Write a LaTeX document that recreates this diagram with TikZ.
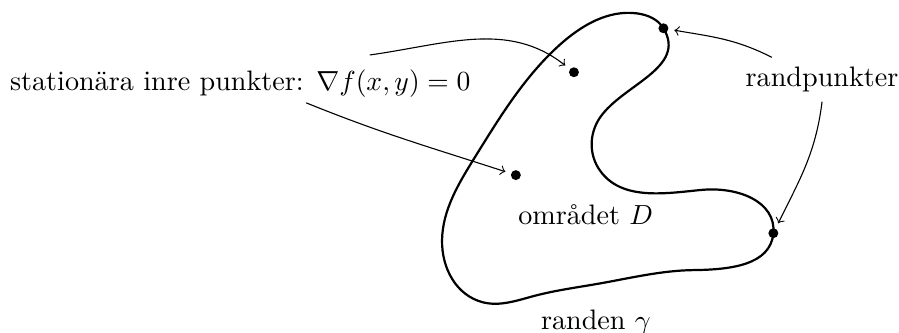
\documentclass[tikz,border=0pt]{standalone}
\usepackage{tikz}
\usetikzlibrary{positioning,hobby}
\tikzset{
  boundary/.style={thick},
  pointdot/.style={circle, fill=black, inner sep=0pt, minimum size=3.6pt},
  pointer/.style={->, shorten >=2pt},
  labeltext/.style={inner sep=0pt, font=\fontsize{10.2}{12}\selectfont},
}

\begin{document}
\begin{tikzpicture}
\useasboundingbox (0,0) rectangle (11.45,4.23);

% Boundary of the region
\draw[boundary, closed hobby] plot coordinates {
  (8.11,4.06) (8.45,3.87) (7.64,2.73) (7.64,2.06) (8.92,1.81) (9.85,1.26)
  (8.83,0.79) (7.64,0.62) (6.80,0.46) (6.15,0.38) (5.63,1.17) (6.05,2.23)
  (7.13,3.66)};

% Points
\node[pointdot] (edgetop) at (8.45,3.87) {};
\node[pointdot] (edgeright) at (9.85,1.26) {};
\node[pointdot] (innertop) at (7.31,3.31) {};
\node[pointdot] (innerlow) at (6.57,2.00) {};

% Labels
\node[labeltext] (stat) at (3.06,3.17) {stationära inre punkter: $\nabla f(x,y) = 0$};
\node[labeltext, inner sep=0.34em] (rand) at (10.47,3.22) {randpunkter};
\node[labeltext] (region) at (7.46,1.50) {området $D$};
\node[labeltext] (gamma) at (7.59,0.12) {randen $\gamma$};

% Start points of the arrows
\coordinate (statup) at (4.71,3.53);
\coordinate (statdown) at (3.90,2.92);
\coordinate (randup) at (9.83,3.50);

% Arrows
\draw[pointer] (statup) to[out=8, in=142] (innertop);
\draw[pointer] (statdown) to[out=-22, in=162] (innerlow);
\draw[pointer] (randup) to[out=153, in=-10] (edgetop);
\draw[pointer] (rand.south) to[out=-97, in=64] (edgeright);

\end{tikzpicture}
\end{document}
